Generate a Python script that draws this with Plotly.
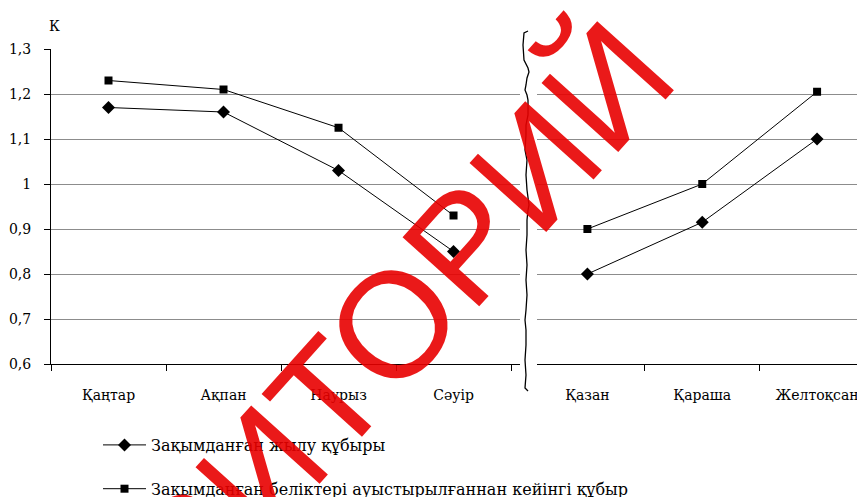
import plotly.graph_objects as go

# ---- data ----
months_left = ["Қаңтар", "Ақпан", "Наурыз", "Сәуір"]
months_right = ["Қазан", "Қараша", "Желтоқсан"]

damaged_left = [1.17, 1.16, 1.03, 0.85]
damaged_right = [0.80, 0.915, 1.10]

replaced_left = [1.23, 1.21, 1.125, 0.93]
replaced_right = [0.90, 1.0, 1.205]

series_names = ["Зақымданған жылу құбыры",
                "Зақымданған беліктері ауыстырылғаннан кейінгі құбыр"]

y_tickvals = [0.6, 0.7, 0.8, 0.9, 1.0, 1.1, 1.2, 1.3]
y_ticktext = ["0,6", "0,7", "0,8", "0,9", "1", "1,1", "1,2", "1,3"]
y_title = "К"
watermark = "РЕПОЗИТОРИЙ"

W, H = 865, 497
OFF = 8  # page body margin offset
SERIF = "DejaVu Serif, serif"


def px(x):
    return (x - OFF) / W


def py(y):
    return 1 - (y - OFF) / H


fig = go.Figure()

line_style = dict(color="black", width=1)
fig.add_trace(go.Scatter(x=months_left, y=damaged_left, mode="lines+markers",
                         name=series_names[0], legendgroup="a",
                         line=line_style,
                         marker=dict(symbol="diamond", size=10, color="black"),
                         xaxis="x", yaxis="y"))
fig.add_trace(go.Scatter(x=months_right, y=damaged_right, mode="lines+markers",
                         name=series_names[0], legendgroup="a", showlegend=False,
                         line=line_style,
                         marker=dict(symbol="diamond", size=10, color="black"),
                         xaxis="x2", yaxis="y"))
fig.add_trace(go.Scatter(x=months_left, y=replaced_left, mode="lines+markers",
                         name=series_names[1], legendgroup="b",
                         line=line_style,
                         marker=dict(symbol="square", size=8, color="black"),
                         xaxis="x", yaxis="y"))
fig.add_trace(go.Scatter(x=months_right, y=replaced_right, mode="lines+markers",
                         name=series_names[1], legendgroup="b", showlegend=False,
                         line=line_style,
                         marker=dict(symbol="square", size=8, color="black"),
                         xaxis="x2", yaxis="y"))

xcommon = dict(type="category", tickson="boundaries", ticks="outside",
               ticklen=6, tickcolor="black", showline=True, linecolor="black",
               linewidth=1, showgrid=False, zeroline=False, automargin=False,
               tickfont=dict(family=SERIF, size=14, color="black"),
               ticklabelstandoff=18)

fig.update_layout(
    width=W, height=H,
    margin=dict(l=0, r=0, t=0, b=0, autoexpand=False),
    paper_bgcolor="white", plot_bgcolor="white",
    xaxis=dict(domain=[px(51), px(520)], range=[-0.5, 3.578],
               categoryorder="array", categoryarray=months_left,
               anchor="y", **xcommon),
    xaxis2=dict(domain=[px(537), px(873)], range=[-0.439, 2.487],
                categoryorder="array", categoryarray=months_right,
                anchor="y", **xcommon),
    yaxis=dict(domain=[py(364), py(49)], range=[0.6, 1.3],
               tickvals=y_tickvals, ticktext=y_ticktext,
               ticks="outside", ticklen=6, tickcolor="black",
               showline=True, linecolor="black", linewidth=1,
               showgrid=True, gridcolor="#8c8c8c", gridwidth=1,
               zeroline=False, anchor="x", ticklabelstandoff=10,
               automargin=False,
               tickfont=dict(family=SERIF, size=14, color="black")),
    showlegend=True,
    legend=dict(x=px(98), y=py(428), xanchor="left", yanchor="top",
                font=dict(family=SERIF, size=16, color="black"),
                tracegroupgap=20, traceorder="grouped",
                bgcolor="rgba(0,0,0,0)", itemwidth=43),
)

# axis title "К"
fig.add_annotation(x=px(47), y=py(16), xref="paper", yref="paper",
                   text=y_title, showarrow=False, xanchor="left",
                   font=dict(family=SERIF, size=14, color="black"))

# axis break (jagged vertical line)
brk = [(528, 31), (524, 33), (523, 45), (524, 60), (528, 68), (529, 72),
       (527, 78), (526, 85), (525, 90), (527, 95), (528, 100), (528, 115),
       (526, 125), (526, 135), (525, 150), (527, 160), (526, 175), (527, 190),
       (529, 205), (528, 210), (527, 220), (527, 235), (526, 250), (527, 265),
       (526, 280), (527, 295), (526, 310), (525, 320), (526, 330), (526, 345),
       (525, 360), (526, 375), (525, 388), (528, 391)]
path = "M" + " L".join(f"{px(x):.5f},{py(y):.5f}" for x, y in brk)
fig.add_shape(type="path", path=path, xref="paper", yref="paper",
              line=dict(color="black", width=1.3))

# watermark
fig.add_annotation(x=px(262), y=py(470), xref="paper", yref="paper",
                   text=watermark, showarrow=False, textangle=-48,
                   xanchor="center", yanchor="middle",
                   font=dict(family="Liberation Sans, sans-serif", size=150,
                             color="rgba(232,0,0,0.9)"))

fig.write_html("out.html")
